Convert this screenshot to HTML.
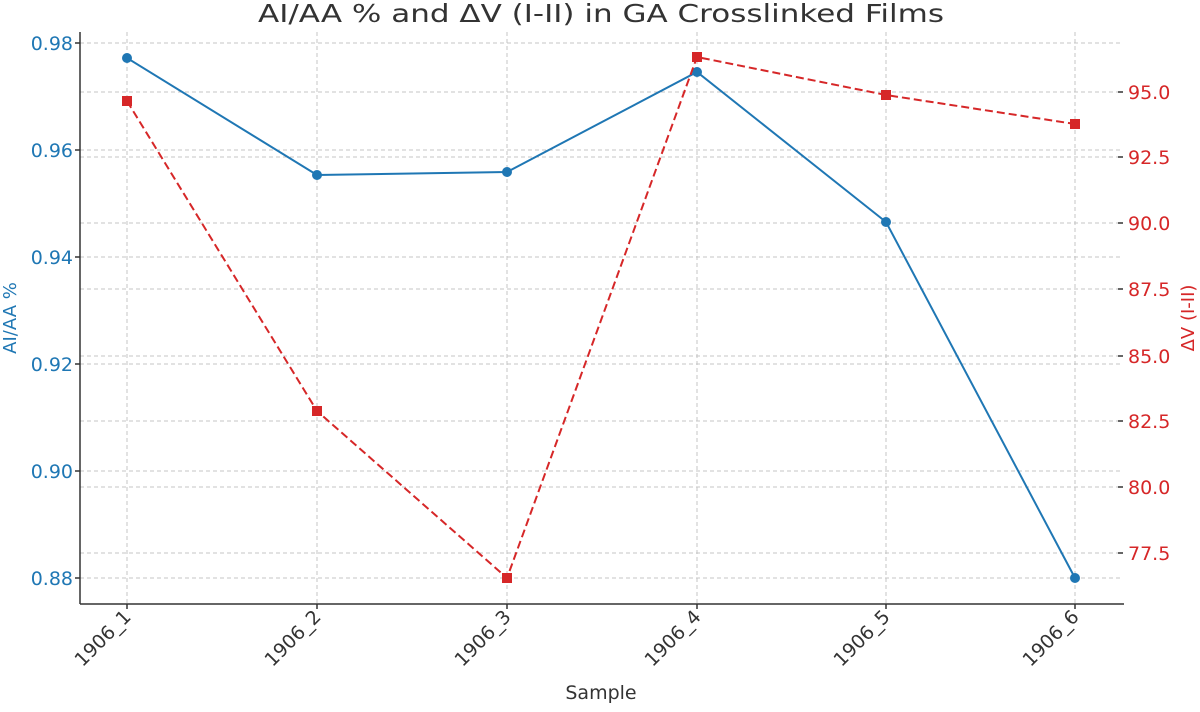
<!DOCTYPE html>
<html><head><meta charset="utf-8"><style>html,body{margin:0;padding:0;background:#fff}</style></head>
<body>
<svg width="1200" height="707" xmlns="http://www.w3.org/2000/svg" font-family="DejaVu Sans, Liberation Sans, sans-serif">
<rect width="1200" height="707" fill="#fff"/>
<g stroke="#c4c4c4" stroke-width="1" stroke-dasharray="4,3">
<line x1="127" y1="32" x2="127" y2="604"/><line x1="317" y1="32" x2="317" y2="604"/><line x1="507" y1="32" x2="507" y2="604"/><line x1="697" y1="32" x2="697" y2="604"/><line x1="886" y1="32" x2="886" y2="604"/><line x1="1075" y1="32" x2="1075" y2="604"/>
<line x1="80" y1="43" x2="1122" y2="43"/><line x1="80" y1="150" x2="1122" y2="150"/><line x1="80" y1="257" x2="1122" y2="257"/><line x1="80" y1="364" x2="1122" y2="364"/><line x1="80" y1="471" x2="1122" y2="471"/><line x1="80" y1="578" x2="1122" y2="578"/>
<line x1="80" y1="92" x2="1122" y2="92"/><line x1="80" y1="157" x2="1122" y2="157"/><line x1="80" y1="223" x2="1122" y2="223"/><line x1="80" y1="289" x2="1122" y2="289"/><line x1="80" y1="356" x2="1122" y2="356"/><line x1="80" y1="421" x2="1122" y2="421"/><line x1="80" y1="487" x2="1122" y2="487"/><line x1="80" y1="553" x2="1122" y2="553"/>
</g>
<g stroke="#333" stroke-width="1.5">
<line x1="80" y1="32" x2="80" y2="604"/><line x1="80" y1="604" x2="1124" y2="604"/>
<line x1="75" y1="43" x2="80" y2="43"/><line x1="75" y1="150" x2="80" y2="150"/><line x1="75" y1="257" x2="80" y2="257"/><line x1="75" y1="364" x2="80" y2="364"/><line x1="75" y1="471" x2="80" y2="471"/><line x1="75" y1="578" x2="80" y2="578"/>
<line x1="1118" y1="92" x2="1123" y2="92"/><line x1="1118" y1="157" x2="1123" y2="157"/><line x1="1118" y1="223" x2="1123" y2="223"/><line x1="1118" y1="289" x2="1123" y2="289"/><line x1="1118" y1="356" x2="1123" y2="356"/><line x1="1118" y1="421" x2="1123" y2="421"/><line x1="1118" y1="487" x2="1123" y2="487"/><line x1="1118" y1="553" x2="1123" y2="553"/>
<line x1="127" y1="604" x2="127" y2="609"/><line x1="317" y1="604" x2="317" y2="609"/><line x1="507" y1="604" x2="507" y2="609"/><line x1="697" y1="604" x2="697" y2="609"/><line x1="886" y1="604" x2="886" y2="609"/><line x1="1075" y1="604" x2="1075" y2="609"/>
</g>
<polyline points="127,58 317,175 507,172 697,72 886,222 1075,578" fill="none" stroke="#1f77b4" stroke-width="2"/>
<g fill="#1f77b4"><circle cx="127" cy="58" r="5"/><circle cx="317" cy="175" r="5"/><circle cx="507" cy="172" r="5"/><circle cx="697" cy="72" r="5"/><circle cx="886" cy="222" r="5"/><circle cx="1075" cy="578" r="5"/></g>
<polyline points="127,101 317,411 507,578 697,57 886,95 1075,124" fill="none" stroke="#d62728" stroke-width="2" stroke-dasharray="8,4"/>
<g fill="#d62728"><rect x="122" y="96" width="10" height="10"/><rect x="312" y="406" width="10" height="10"/><rect x="502" y="573" width="10" height="10"/><rect x="692" y="52" width="10" height="10"/><rect x="881" y="90" width="10" height="10"/><rect x="1070" y="119" width="10" height="10"/></g>
<text x="601" y="22" font-size="25" fill="#333" text-anchor="middle" textLength="686" lengthAdjust="spacingAndGlyphs">AI/AA % and ΔV (I-II) in GA Crosslinked Films</text>
<g font-size="19" fill="#1f77b4" text-anchor="end">
<text x="73" y="50">0.98</text><text x="73" y="157">0.96</text><text x="73" y="264">0.94</text><text x="73" y="371">0.92</text><text x="73" y="478">0.90</text><text x="73" y="585">0.88</text>
</g>
<g font-size="19" fill="#d62728">
<text x="1128" y="99">95.0</text><text x="1128" y="164">92.5</text><text x="1128" y="230">90.0</text><text x="1128" y="296">87.5</text><text x="1128" y="363">85.0</text><text x="1128" y="428">82.5</text><text x="1128" y="494">80.0</text><text x="1128" y="560">77.5</text>
</g>
<text transform="translate(16,318) rotate(-90)" font-size="18" fill="#1f77b4" text-anchor="middle">AI/AA %</text>
<text transform="translate(1194,318) rotate(-90)" font-size="18" fill="#d62728" text-anchor="middle">ΔV (I-II)</text>
<g font-size="19" fill="#333" text-anchor="end">
<text transform="translate(132,618) rotate(-45)">1906_1</text><text transform="translate(322,618) rotate(-45)">1906_2</text><text transform="translate(512,618) rotate(-45)">1906_3</text><text transform="translate(702,618) rotate(-45)">1906_4</text><text transform="translate(891,618) rotate(-45)">1906_5</text><text transform="translate(1080,618) rotate(-45)">1906_6</text>
</g>
<text x="601" y="699" font-size="19" fill="#333" text-anchor="middle">Sample</text>
</svg>
</body></html>
